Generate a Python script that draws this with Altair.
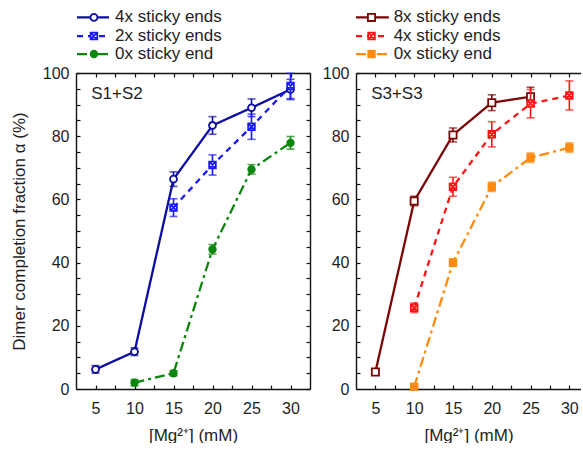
import altair as alt
import pandas as pd

# ---------------- data ----------------
# S1+S2 panel
mg_s12_4x = [5, 10, 15, 20, 25, 30]
val_s12_4x = [6.2, 11.8, 66.4, 83.4, 89.0, 94.8]
err_s12_4x = [1.2, 1.2, 2.3, 2.8, 2.8, 3.2]

mg_s12_2x = [15, 20, 25, 30]
val_s12_2x = [57.4, 70.9, 83.0, 95.9]
err_s12_2x = [2.8, 3.2, 4.0, 4.0]

mg_s12_0x = [10, 15, 20, 25, 30]
val_s12_0x = [2.0, 5.0, 44.2, 69.5, 77.9]
err_s12_0x = [1.0, 0.8, 1.5, 1.5, 2.0]

# S3+S3 panel
mg_s33_8x = [5, 10, 15, 20, 25]
val_s33_8x = [5.4, 59.5, 80.4, 90.6, 92.5]
err_s33_8x = [1.0, 1.5, 2.2, 2.5, 3.0]

mg_s33_4x = [10, 15, 20, 25, 30]
val_s33_4x = [25.7, 64.0, 80.6, 90.3, 92.9]
err_s33_4x = [1.5, 3.0, 4.0, 4.5, 4.6]

mg_s33_0x = [10, 15, 20, 25, 30]
val_s33_0x = [0.7, 40.0, 64.0, 73.2, 76.4]
err_s33_0x = [0.5, 1.2, 1.5, 1.5, 1.5]

labels_s12 = ["4x sticky ends", "2x sticky ends", "0x sticky end"]
labels_s33 = ["8x sticky ends", "4x sticky ends", "0x sticky end"]

# ---------------- styling ----------------
FONT = "Liberation Sans"
TXT = "#1e1e1e"
XSQUARE = "M-1,-1H1V1H-1Z M-1,-1L1,1 M1,-1L-1,1"
SOLID = [1, 0]
DASHED = [6, 5]
DASHDOT = [10, 4, 3, 4]
INWARD = alt.ExprRef(expr="-4")

y_tick_values = [v * 5 for v in range(21)]


def make_series(mg, val, err, label, color, dash, shape, fill, size):
    df = pd.DataFrame({"mg": mg, "v": val, "e": err})
    df["lo"] = df["v"] - df["e"]
    df["hi"] = df["v"] + df["e"]
    return dict(df=df, label=label, color=color, dash=dash,
                shape=shape, fill=fill, size=size)


s12 = [
    make_series(mg_s12_4x, val_s12_4x, err_s12_4x, labels_s12[0],
                "#0c0ca0", SOLID, "circle", "white", 48),
    make_series(mg_s12_2x, val_s12_2x, err_s12_2x, labels_s12[1],
                "#1818ff", DASHED, XSQUARE, "white", 44),
    make_series(mg_s12_0x, val_s12_0x, err_s12_0x, labels_s12[2],
                "#0c860c", DASHDOT, "circle", None, 70),
]
s33 = [
    make_series(mg_s33_8x, val_s33_8x, err_s33_8x, labels_s33[0],
                "#7c0606", SOLID, "square", "white", 52),
    make_series(mg_s33_4x, val_s33_4x, err_s33_4x, labels_s33[1],
                "#ff1414", DASHED, XSQUARE, "white", 44),
    make_series(mg_s33_0x, val_s33_0x, err_s33_0x, labels_s33[2],
                "#ff8a10", DASHDOT, "square", None, 70),
]


def point_mark(s):
    if s["fill"] is None:
        return alt.Chart().mark_point(filled=True, shape=s["shape"], size=s["size"],
                                      color=s["color"], opacity=1)
    return alt.Chart().mark_point(filled=True, shape=s["shape"], size=s["size"],
                                  fill=s["fill"], stroke=s["color"], strokeWidth=1.8,
                                  opacity=1)


def panel(series, tag, x_max, width, mirror_right, y_title, legend_x):
    xs = alt.Scale(domain=[2.5, x_max], nice=False, zero=False)
    ys = alt.Scale(domain=[0, 100], nice=False, zero=False)
    x_ticks = [v * 2.5 for v in range(2, 13)]

    def X(field, axis=None):
        return alt.X(field, type="quantitative", scale=xs, axis=axis)

    def Y(field, axis=None):
        return alt.Y(field, type="quantitative", scale=ys, axis=axis)

    base = series[0]["df"]
    ax_bottom = alt.Axis(orient="bottom", values=x_ticks, tickSize=INWARD,
                         labelExpr="datum.value % 5 === 0 ? datum.label : ''",
                         labelPadding=15, labelFlush=False, labelOverlap=False,
                         title="[Mg²⁺] (mM)", titlePadding=11)
    if y_title:
        ax_left = alt.Axis(orient="left", values=y_tick_values, tickSize=INWARD,
                           labelExpr="datum.value % 20 === 0 ? datum.label : ''",
                           labelPadding=11, labelFlush=False, labelOverlap=False,
                           title=y_title, titlePadding=14)
    else:
        ax_left = alt.Axis(orient="left", values=y_tick_values, tickSize=INWARD,
                           labelExpr="datum.value % 20 === 0 ? datum.label : ''",
                           labelPadding=11, labelFlush=False, labelOverlap=False,
                           title=None)
    ax_top = alt.Axis(orient="top", values=x_ticks, tickSize=INWARD,
                      labels=False, title=None)
    ax_right = alt.Axis(orient="right", values=y_tick_values, tickSize=INWARD,
                        labels=False, title=None) if mirror_right else None

    layers = [
        alt.Chart(base).mark_point(opacity=0).encode(
            x=X("mg", ax_bottom), y=Y("v", ax_left)),
        alt.Chart(base).mark_point(opacity=0).encode(
            x=X("mg", ax_top), y=Y("v", ax_right)),
    ]

    for s in series:
        df = s["df"]
        layers.append(alt.Chart(df).mark_line(
            color=s["color"], strokeDash=s["dash"], strokeWidth=2.3).encode(
            x=X("mg"), y=Y("v")))
        layers.append(alt.Chart(df).mark_rule(
            color=s["color"], strokeWidth=1.6).encode(
            x=X("mg"), y=Y("lo"), y2="hi"))
        for end in ("lo", "hi"):
            layers.append(alt.Chart(df).mark_tick(
                color=s["color"], orient="horizontal", size=8, thickness=1.6).encode(
                x=X("mg"), y=Y(end)))
        layers.append(point_mark(s).properties(data=df).encode(
            x=X("mg"), y=Y("v")))

    # legend rows above the frame
    row_y = [117.6, 111.7, 106.0]
    lx0, lx1, lmark, ltext = legend_x
    for s, ry in zip(series, row_y):
        seg = pd.DataFrame({"mg": [lx0, lx1], "v": [ry, ry]})
        layers.append(alt.Chart(seg).mark_line(
            color=s["color"], strokeDash=s["dash"], strokeWidth=2.3).encode(
            x=X("mg"), y=Y("v")))
        mk = pd.DataFrame({"mg": [lmark], "v": [ry]})
        layers.append(point_mark(s).properties(data=mk).encode(
            x=X("mg"), y=Y("v")))
        tx = pd.DataFrame({"mg": [ltext], "v": [ry], "t": [s["label"]]})
        layers.append(alt.Chart(tx).mark_text(
            align="left", baseline="middle", font=FONT, fontSize=17,
            color=TXT).encode(x=X("mg"), y=Y("v"), text="t:N"))

    tag_df = pd.DataFrame({"mg": [4.45], "v": [93.5], "t": [tag]})
    layers.append(alt.Chart(tag_df).mark_text(
        align="left", baseline="middle", font=FONT, fontSize=17,
        color=TXT).encode(x=X("mg"), y=Y("v"), text="t:N"))

    return alt.layer(*layers).resolve_axis(x="independent", y="independent").properties(
        width=width, height=316)


left = panel(s12, "S1+S2", 32.5, 234, True, "Dimer completion fraction α (%)",
             (2.63, 6.73, 4.8, 7.5))
right = panel(s33, "S3+S3", 31.5, 225, False, None,
              (2.5, 6.73, 4.5, 7.35))

chart = alt.hconcat(left, right, spacing=11).properties(
    padding={"left": 10, "top": 8, "right": 0, "bottom": 0}
).configure_view(stroke=None).configure_axis(
    labelFont=FONT, labelFontSize=16, labelColor=TXT,
    titleFont=FONT, titleFontSize=17, titleColor=TXT, titleFontWeight="normal",
    domainColor="#111111", domainWidth=1.4, tickColor="#111111", tickWidth=1.2,
    grid=False,
)

chart.save("out.html", embed_options={"renderer": "svg", "actions": False})
